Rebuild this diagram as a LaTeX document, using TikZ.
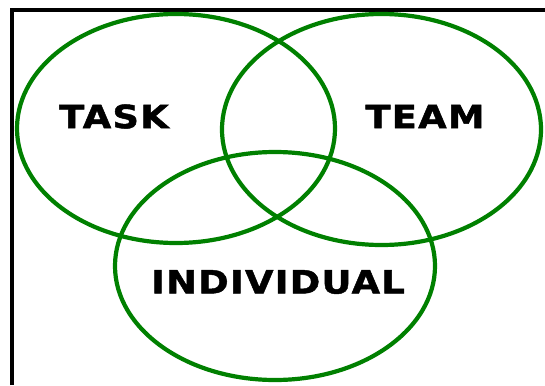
\documentclass[tikz,border=0pt]{standalone}
\usepackage{fontspec}
\usepackage{tikz}
\usetikzlibrary{positioning}
\newfontfamily\lblfont[LetterSpace=4, FakeStretch=1.15, FakeBold=1.5]{DejaVu Sans}
\definecolor{vgreen}{RGB}{0,128,0}

\begin{document}
\begin{tikzpicture}[
    x=1pt, y=-1pt,
    ring/.style={draw=vgreen, line width=4.2pt},
    lbl/.style={inner sep=0pt, font=\lblfont\bfseries\fontsize{32}{32}\selectfont},
]
    \useasboundingbox (0,0) rectangle (545,385);
    \draw[line width=3.5pt] (12,385) -- (12,10) -- (545,10);

    \draw[ring] (176,128.5) ellipse [x radius=159, y radius=114.5];
    \draw[ring] (381.5,129.5) ellipse [x radius=159.5, y radius=115.5];
    \draw[ring] (275,266) ellipse [x radius=160, y radius=114];

    \node[lbl] (task) at (114,116.5) {TASK};
    \node[lbl] (team) at (425,116.5) {TEAM};
    \node[lbl] (indiv) at (278,282) {INDIVIDUAL};
\end{tikzpicture}
\end{document}
